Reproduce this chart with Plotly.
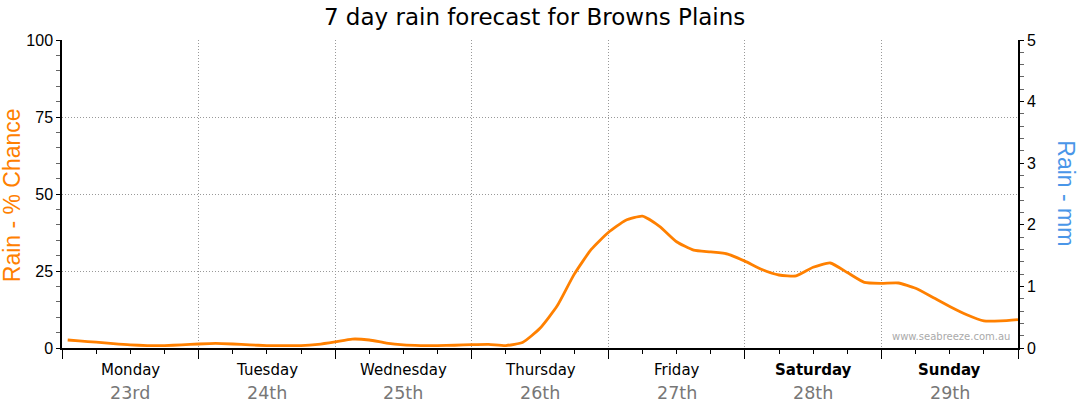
import plotly.graph_objects as go

# 3-hourly chance of rain (%) – hours from Monday 00:00
hours = [1, 3, 6, 9, 12, 15, 18, 21, 24, 27, 30, 33, 36, 39, 42, 45, 48, 51, 54, 57,
         60, 63, 66, 69, 72, 75, 78, 81, 84, 87, 90, 93, 96, 99, 102, 105, 108, 111,
         114, 117, 120, 123, 126, 129, 132, 135, 138, 141, 144, 147, 150, 153, 156,
         159, 162, 165, 168]
chance = [2.6, 2.3, 1.9, 1.4, 1.0, 0.8, 0.8, 1.0, 1.3, 1.5, 1.3, 1.0, 0.8, 0.8, 0.8,
          1.2, 2.0, 2.9, 2.6, 1.6, 1.0, 0.8, 0.8, 0.9, 1.1, 1.2, 0.8, 1.9, 6.4, 13.6,
          23.9, 32.0, 37.5, 41.4, 42.8, 39.5, 34.5, 31.8, 31.2, 30.5, 28.2, 25.5, 23.7,
          23.4, 26.2, 27.6, 24.5, 21.3, 21.0, 21.1, 19.4, 16.5, 13.5, 10.8, 8.8, 8.8, 9.2]

days = ["Monday", "Tuesday", "Wednesday", "Thursday", "Friday", "Saturday", "Sunday"]
dates = ["23rd", "24th", "25th", "26th", "27th", "28th", "29th"]
bold_days = ["Saturday", "Sunday"]
pct_ticks = [0, 25, 50, 75, 100]
mm_ticks = [0, 1, 2, 3, 4, 5]

ORANGE = "#ff8000"
BLUE = "#4a96e8"
FONT = "DejaVu Sans"
ARIAL = "Liberation Sans"

fig = go.Figure()
fig.add_trace(go.Scatter(x=hours, y=chance, mode="lines",
                         line=dict(color=ORANGE, width=2.8, shape="spline", smoothing=0.5),
                         hoverinfo="skip", showlegend=False))
fig.add_trace(go.Scatter(x=[0], y=[0], yaxis="y2", mode="markers",
                         marker=dict(opacity=0), hoverinfo="skip", showlegend=False))

annotations = []
for i, (d, dt) in enumerate(zip(days, dates)):
    txt = f"<b>{d}</b>" if d in bold_days else d
    annotations.append(dict(x=12 + 24 * i, y=-0.071, xref="x", yref="paper", text=txt,
                            showarrow=False, font=dict(family=FONT, size=15, color="#000"),
                            xanchor="center", yanchor="middle"))
    annotations.append(dict(x=12 + 24 * i, y=-0.146, xref="x", yref="paper", text=dt,
                            showarrow=False, font=dict(family=FONT, size=17.5, color="#777"),
                            xanchor="center", yanchor="middle"))

annotations.append(dict(x=-0.052, y=0.497, xref="paper", yref="paper", text="Rain - % Chance",
                        textangle=-90, showarrow=False, xanchor="center", yanchor="middle",
                        font=dict(family=ARIAL, size=23, color=ORANGE)))
annotations.append(dict(x=1.050, y=0.503, xref="paper", yref="paper", text="Rain - mm",
                        textangle=90, showarrow=False, xanchor="center", yanchor="middle",
                        font=dict(family=ARIAL, size=23, color=BLUE)))
annotations.append(dict(x=0.9937, y=0.012, xref="paper", yref="paper", text="www.seabreeze.com.au",
                        showarrow=False, xanchor="right", yanchor="bottom",
                        font=dict(family=FONT, size=10, color="#aaa")))

fig.update_layout(
    width=1080, height=414,
    margin=dict(l=62, r=62, t=40, b=66),
    paper_bgcolor="white", plot_bgcolor="white",
    title=dict(text="7 day rain forecast for Browns Plains", x=0.495, xref="container",
               xanchor="center", y=0.958, yanchor="middle",
               font=dict(family=FONT, size=23, color="#000")),
    font=dict(family=ARIAL, size=16, color="#000"),
    xaxis=dict(range=[0, 168], tickmode="array", tickvals=[0, 24, 48, 72, 96, 120, 144, 168],
               showticklabels=False, ticks="outside", ticklen=9, tickcolor="#000",
               minor=dict(dtick=6, tick0=0, ticks="outside", ticklen=4, tickcolor="#000",
                          showgrid=False),
               showgrid=True, gridcolor="#999", griddash="1px,2px", gridwidth=1,
               showline=True, linecolor="#000", linewidth=1.5, zeroline=False, fixedrange=True),
    yaxis=dict(range=[0, 100], tickvals=pct_ticks, ticks="outside", ticklen=4,
               tickcolor="#000",
               minor=dict(dtick=5, ticks="outside", ticklen=4, tickcolor="#666", showgrid=False),
               showgrid=True, gridcolor="#999", griddash="1px,2px", gridwidth=1,
               showline=True, linecolor="#000", linewidth=1.5, zeroline=False,
               tickfont=dict(family=ARIAL, size=16, color="#000"), fixedrange=True),
    yaxis2=dict(range=[0, 5], overlaying="y", side="right", tickvals=mm_ticks,
                ticks="outside", ticklen=4, tickcolor="#000",
                minor=dict(dtick=0.2, ticks="outside", ticklen=4, tickcolor="#666"),
                showgrid=False, showline=True, linecolor="#000", linewidth=1.5,
                zeroline=False, tickfont=dict(family=ARIAL, size=16, color="#000"),
                fixedrange=True),
    annotations=annotations,
)

fig.write_html("out.html", config={"displayModeBar": False},
               post_script="document.body.style.margin='0';document.body.style.overflow='hidden';")
